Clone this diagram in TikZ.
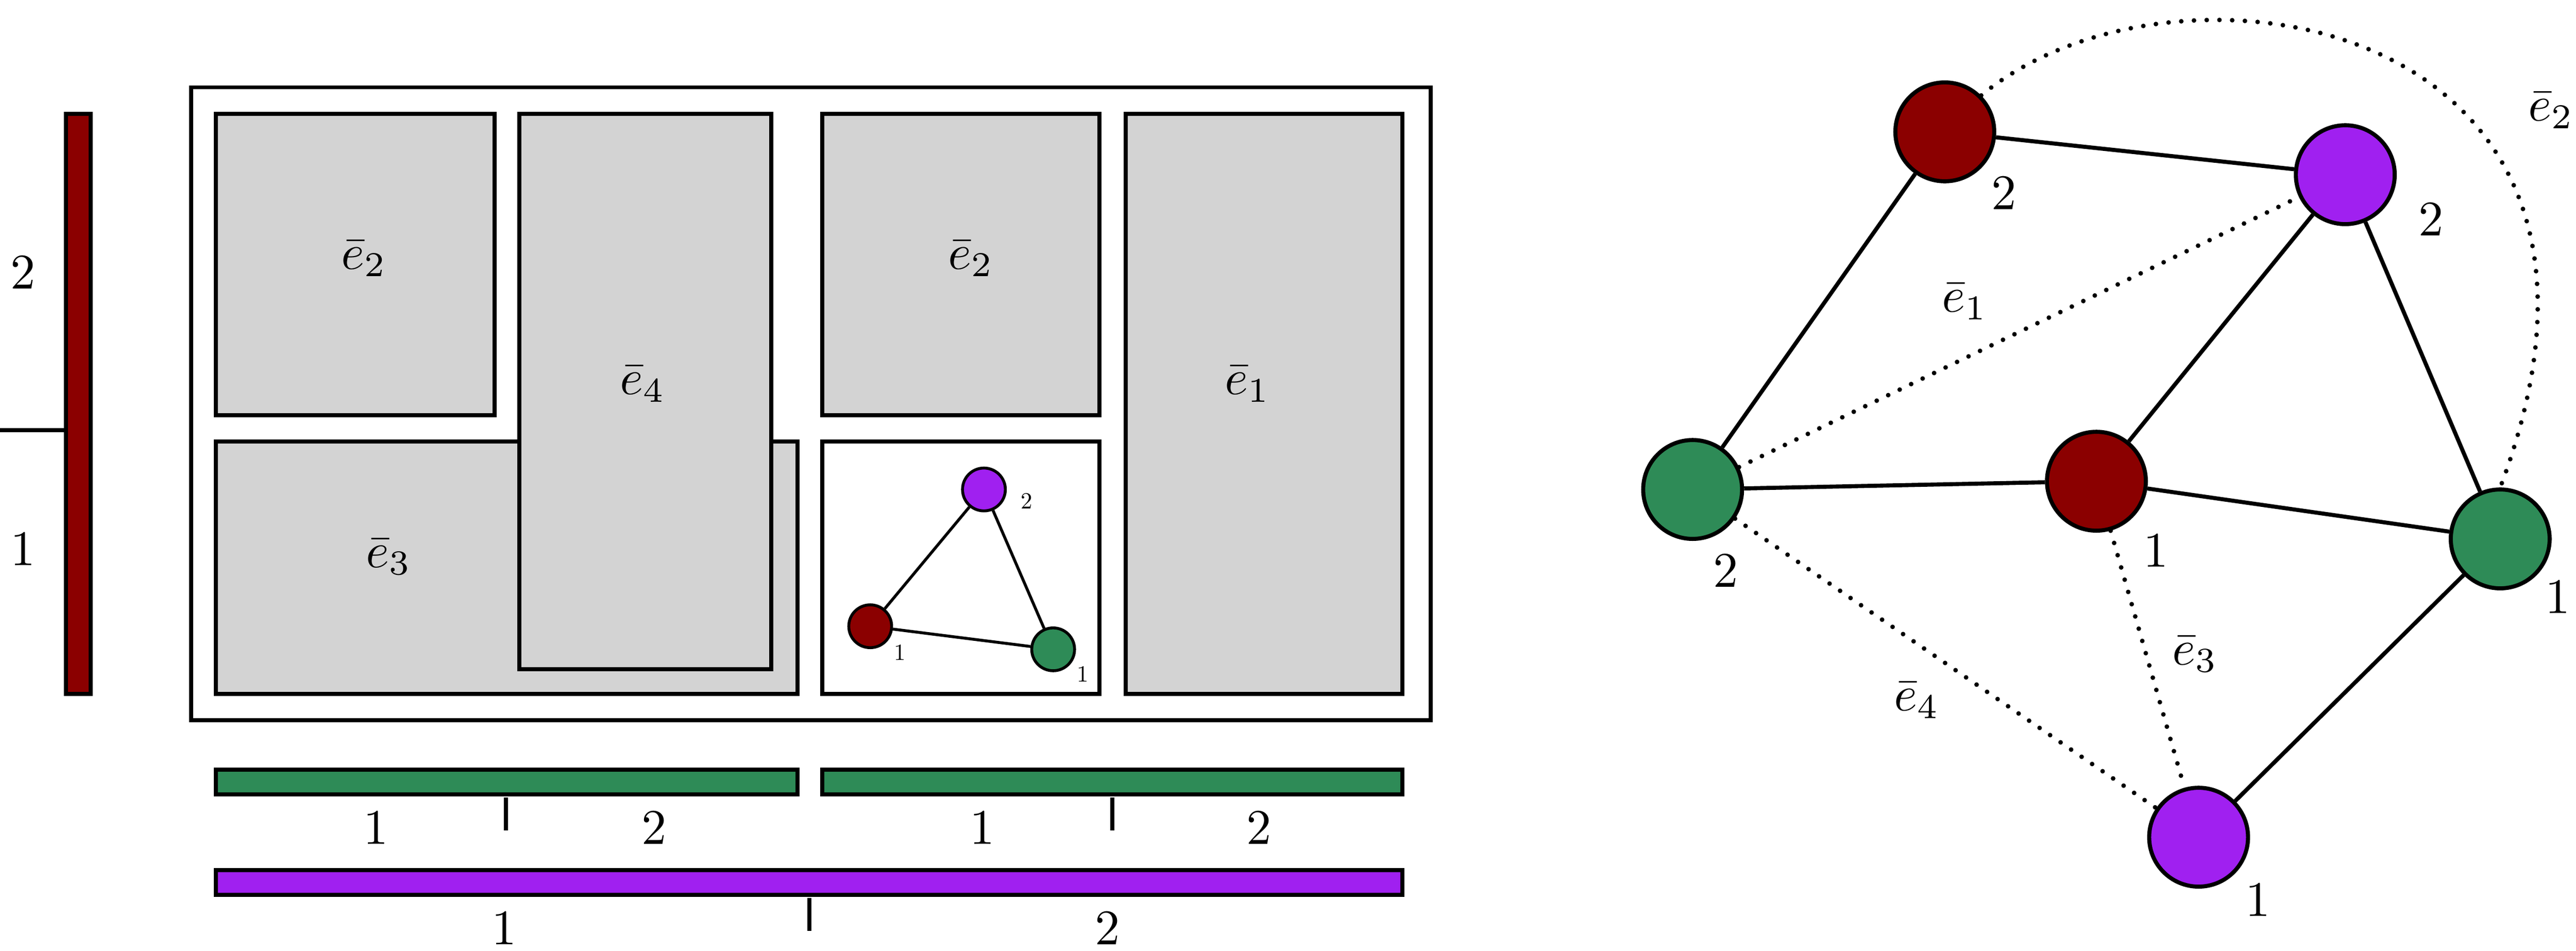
\documentclass[tikz,border=0pt]{standalone}
\usepackage{graphicx}
\newcommand\eb[1]{\scalebox{4.3}{\normalsize$\bar e_{#1}$}}
\newcommand\bd[1]{\scalebox{4.3}{\normalsize #1}}
\newcommand\sd[1]{\scalebox{2}{\normalsize #1}}
\begin{document}
\definecolor{mar}{HTML}{8B0000}
\definecolor{pur}{HTML}{A020F0}
\definecolor{grn}{HTML}{2E8B57}
\definecolor{gr}{HTML}{D3D3D3}
\begin{tikzpicture}[x=0.05cm,y=-0.05cm,line width=3.5pt,
  big/.style={inner sep=0},
  box/.style={draw=black,fill=gr},
  bn/.style={circle,draw=black,minimum size=3cm,inner sep=0},
  mn/.style={circle,draw=black,minimum size=1.3cm,inner sep=0,line width=2.5pt},
  dot/.style={dash pattern=on 0pt off 11pt,line cap=round,line width=4pt}]
\useasboundingbox (0,0) rectangle (1563,577);
% left bar
\draw[fill=mar] (40,69) rectangle (55,421);
\coordinate (t0) at (0,261); \coordinate (t1) at (40,261);
\draw (t0) -- (t1);
\node[big] (l2) at (14,165) {\bd2};
\node[big] (l1) at (14,333) {\bd1};
% outer
\draw (116,53) rectangle (868,437);
\draw[box] (131,69) rectangle (300,252); \node[big] (a) at (221,157) {\eb2};
\draw[box] (131,268) rectangle (484,421); \node[big] (b) at (236,338) {\eb3};
\draw[box] (315,69) rectangle (468,406); \node[big] (c) at (390,233) {\eb4};
\draw[box] (499,69) rectangle (667,252); \node[big] (d) at (589,157) {\eb2};
\draw[fill=white] (499,268) rectangle (667,421);
\draw[box] (683,69) rectangle (851,421); \node[big] (e) at (757,233) {\eb1};
% mini graph
\node[mn,fill=pur] (mp) at (597,297) {};
\node[mn,fill=mar] (mm) at (528,380) {};
\node[mn,fill=grn] (mg) at (639,394) {};
\draw[line width=2.5pt] (mp) -- (mm) (mp) -- (mg) (mm) -- (mg);
\node[big] at (623,304) {\sd2};
\node[big] at (546,396) {\sd1};
\node[big] at (657,409) {\sd1};
% green bars
\draw[fill=grn] (131,467) rectangle (484,482);
\draw (307,484) -- (307,504);
\node[big] at (228,502) {\bd1}; \node[big] at (397,502) {\bd2};
\draw[fill=grn] (499,467) rectangle (851,482);
\draw (675,484) -- (675,504);
\node[big] at (596,502) {\bd1}; \node[big] at (764,502) {\bd2};
\draw[fill=pur] (131,528) rectangle (851,543);
\draw (491,545) -- (491,565);
\node[big] at (306,563) {\bd1}; \node[big] at (672,563) {\bd2};
% right graph
\node[bn,fill=mar] (M2) at (1180,80) {};
\node[bn,fill=pur] (P2) at (1423,106) {};
\node[bn,fill=grn] (G2) at (1027,297) {};
\node[bn,fill=mar] (M1) at (1272,292) {};
\node[bn,fill=grn] (G1) at (1517,327) {};
\node[bn,fill=pur] (P1) at (1334,508) {};
\draw (M2) -- (P2) (M2) -- (G2) (G2) -- (M1) (M1) -- (P2) (P2) -- (G1) (M1) -- (G1) (G1) -- (P1);
\draw[dot] (G2) -- (P2) (G2) -- (P1) (M1) -- (P1);
\draw[dot] (M2.north east) .. controls (1320,-40) and (1625,10) .. (G1.north);
\node[big] at (1216,117) {\bd2};
\node[big] at (1475,133) {\bd2};
\node[big] at (1047,346) {\bd2};
\node[big] at (1308,334) {\bd1};
\node[big] at (1552,362) {\bd1};
\node[big] at (1370,546) {\bd1};
\node[big] at (1192,183) {\eb1};
\node[big] at (1163,425) {\eb4};
\node[big] at (1332,397) {\eb3};
\node[big] at (1548,67) {\eb2};
\end{tikzpicture}
\end{document}
